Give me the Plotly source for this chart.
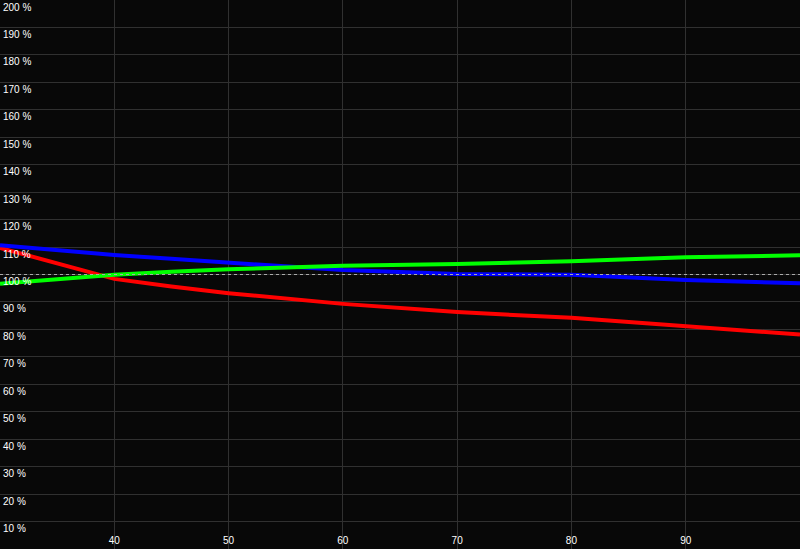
import plotly.graph_objects as go

x_vals = [30, 35, 40, 45, 50, 60, 70, 80, 90, 100]
red_vals = [109.7, 104.2, 98.4, 95.6, 93.2, 89.3, 86.3, 84.2, 81.0, 78.1]
blue_vals = [110.7, 108.9, 107.1, 105.7, 104.3, 101.6, 100.2, 99.9, 98.0, 96.8]
green_vals = [96.6, 98.3, 99.9, 101.0, 101.9, 103.2, 103.8, 104.8, 106.3, 107.0]

y_ticks = list(range(10, 201, 10))
y_labels = [f"{v} %" for v in y_ticks]
x_ticks = [40, 50, 60, 70, 80, 90]

fig = go.Figure()
fig.add_trace(go.Scatter(x=x_vals, y=red_vals, mode="lines",
                         line=dict(color="#ff0000", width=4)))
fig.add_trace(go.Scatter(x=x_vals, y=blue_vals, mode="lines",
                         line=dict(color="#0000ff", width=4)))
fig.add_trace(go.Scatter(x=x_vals, y=green_vals, mode="lines",
                         line=dict(color="#00ff00", width=4)))

fig.add_shape(type="line", xref="paper", x0=0, x1=1, yref="y", y0=100, y1=100,
              line=dict(color="#aaaaaa", width=1, dash="dot"), layer="above")

fig.update_layout(
    width=800, height=549,
    margin=dict(l=0, r=0, t=0, b=0),
    paper_bgcolor="#080808", plot_bgcolor="#080808",
    showlegend=False,
    font=dict(family="Liberation Sans, Arial", size=10, color="#949494"),
    xaxis=dict(range=[30, 100], tickvals=x_ticks, showgrid=True,
               gridcolor="#303030", gridwidth=1, zeroline=False,
               ticklabelposition="inside", ticks="", showline=False),
    yaxis=dict(range=[0, 200], tickvals=y_ticks, ticktext=y_labels,
               showgrid=True, gridcolor="#303030", gridwidth=1, zeroline=False,
               ticklabelposition="inside", ticks="", showline=False,
               ticklabelshift=7),
)

fig.write_html("out.html", config={"displayModeBar": False},
               post_script="document.body.style.margin='0';document.body.style.overflow='hidden';")
